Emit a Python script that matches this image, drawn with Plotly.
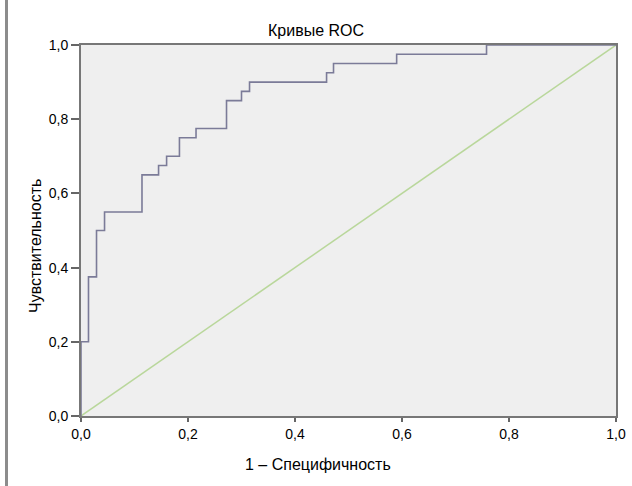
import plotly.graph_objects as go

# ROC curve corner points (1 - specificity, sensitivity)
fpr = [0.0, 0.0, 0.014, 0.029, 0.044, 0.114, 0.145, 0.160, 0.184, 0.215,
       0.272, 0.300, 0.315, 0.459, 0.472, 0.590, 0.758, 1.0]
tpr = [0.0, 0.2, 0.375, 0.5, 0.55, 0.65, 0.675, 0.7, 0.75, 0.775,
       0.85, 0.875, 0.9, 0.925, 0.95, 0.975, 1.0, 1.0]

ref_x = [0.0, 1.0]
ref_y = [0.0, 1.0]

tick_vals = [0.0, 0.2, 0.4, 0.6, 0.8, 1.0]
tick_text = ["0,0", "0,2", "0,4", "0,6", "0,8", "1,0"]

title_text = "Кривые ROC"
x_title = "1 – Специфичность"
y_title = "Чувствительность"

W, H = 632, 486
ml, mr, mt, mb = 81, 16, 45, 70
pw = W - ml - mr
ph = H - mt - mb

font_family = "Liberation Sans, Arial, sans-serif"

fig = go.Figure()
fig.add_trace(go.Scatter(
    x=ref_x, y=ref_y, mode="lines",
    line=dict(color="#b9d79b", width=1.5),
    cliponaxis=False, showlegend=False, hoverinfo="skip"))
fig.add_trace(go.Scatter(
    x=fpr, y=tpr, mode="lines", line_shape="hv",
    line=dict(color="#7b7b98", width=1.6),
    cliponaxis=False, showlegend=False))

def px_to_paper_x(px):
    return (px - ml) / pw

def px_to_paper_y(py):
    return (H - mb - py) / ph

fig.update_layout(
    width=W, height=H,
    margin=dict(l=ml, r=mr, t=mt, b=mb),
    paper_bgcolor="white",
    plot_bgcolor="#efefef",
    font=dict(family=font_family, size=14, color="black"),
    xaxis=dict(range=[0, 1], tickvals=tick_vals, ticktext=tick_text,
               automargin=False,
               showgrid=False, zeroline=False,
               showline=True, linecolor="#777777", linewidth=2, mirror=True,
               ticks="outside", ticklen=4, tickwidth=1.5, tickcolor="#666666",
               tickfont=dict(size=14)),
    yaxis=dict(range=[0, 1], tickvals=tick_vals, ticktext=tick_text,
               automargin=False,
               showgrid=False, zeroline=False,
               showline=True, linecolor="#777777", linewidth=2, mirror=True,
               ticks="outside", ticklen=8, tickwidth=1.5, tickcolor="#666666",
               tickfont=dict(size=14)),
    annotations=[
        dict(text=title_text, xref="paper", yref="paper",
             x=px_to_paper_x(316), y=px_to_paper_y(30),
             xanchor="center", yanchor="middle", showarrow=False,
             font=dict(size=16)),
        dict(text=x_title, xref="paper", yref="paper",
             x=px_to_paper_x(318), y=px_to_paper_y(464),
             xanchor="center", yanchor="middle", showarrow=False,
             font=dict(size=16)),
        dict(text=y_title, xref="paper", yref="paper",
             x=px_to_paper_x(35), y=px_to_paper_y(246),
             xanchor="center", yanchor="middle", showarrow=False,
             textangle=-90, font=dict(size=16)),
    ],
    shapes=[
        dict(type="line", xref="paper", yref="paper",
             x0=px_to_paper_x(6.5), x1=px_to_paper_x(6.5),
             y0=px_to_paper_y(0), y1=px_to_paper_y(486),
             line=dict(color="#8c8c8c", width=3)),
    ],
)

fig.write_html("out.html",
               config={"displayModeBar": False},
               post_script="document.body.style.margin='0';"
                           "document.body.style.padding='0';")
